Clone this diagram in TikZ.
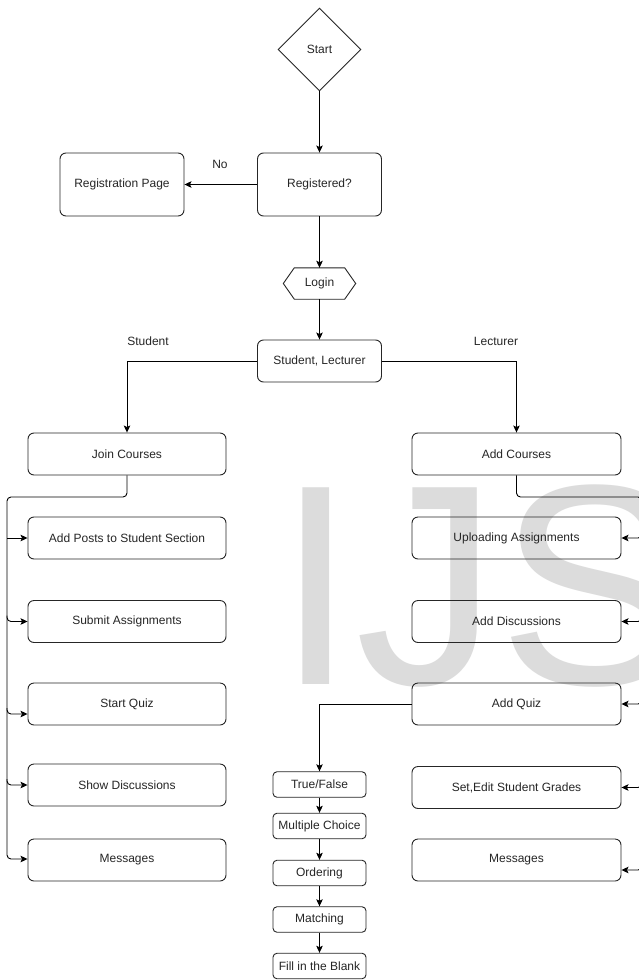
\documentclass[tikz,border=0pt]{standalone}
\usepackage{fontspec}
\setmainfont{Liberation Sans}
\usetikzlibrary{shapes.geometric,arrows.meta,calc}
\definecolor{txt}{HTML}{262626}
\definecolor{wmk}{HTML}{DCDCDC}
\tikzset{
  base/.style={font=\fontsize{12}{14}\selectfont, text=txt, inner sep=0pt},
  bigbox/.style={base, draw=black!85, line width=0.9pt, rounded corners=6pt, minimum height=42pt},
  leftbox/.style={bigbox, minimum width=198pt},
  rightbox/.style={bigbox, minimum width=209pt},
  smallbox/.style={base, draw=black!85, line width=0.9pt, rounded corners=4pt, minimum width=93pt, minimum height=25.5pt},
  lbl/.style={base},
  arr/.style={draw=black, line width=0.9pt, -{Stealth[length=7pt,width=6.5pt,inset=1.5pt]}},
  bus/.style={arr, rounded corners=4pt}
}
\begin{document}
\begin{tikzpicture}[x=1pt,y=-1pt]
\useasboundingbox (0,0) rectangle (639,980);
\fill[white] (0,0) rectangle (639,980);
% watermark
\node[anchor=base west, inner sep=0pt, text=wmk, font=\fontsize{286}{286}\selectfont] (wm) at (276,684) {IJS};

% top column
\node[base, diamond, draw=black!85, line width=0.9pt, minimum width=83pt, minimum height=83pt] (start) at (319.5,49.5) {Start};
\node[bigbox, minimum width=124pt, minimum height=63pt] (reg) at (319.5,184.5) {Registered?};
\node[bigbox, minimum width=124pt, minimum height=63pt] (regp) at (122,184.5) {Registration Page};
\node[lbl] (no) at (220,164) {No};
\node[base, minimum width=72pt, minimum height=31pt] (login) at (319.5,283.5) {Login};
\draw[black!85, line width=0.9pt] (login.west) -- ($(login.north west)+(11,0)$) -- ($(login.north east)+(-11,0)$) -- (login.east) -- ($(login.south east)+(-11,0)$) -- ($(login.south west)+(11,0)$) -- cycle;
\node[bigbox, minimum width=124pt] (sl) at (319.5,361) {Student, Lecturer};
\node[lbl] (stud) at (148,341) {Student};
\node[lbl] (lect) at (496,341) {Lecturer};

% left column
\node[leftbox] (join) at (127,454) {Join Courses};
\node[leftbox] (posts) at (127,538) {Add Posts to Student Section};
\node[leftbox] (submit) at (127,621.5) {Submit Assignments};
\node[leftbox] (squiz) at (127,704) {Start Quiz};
\node[leftbox] (showd) at (127,785) {Show Discussions};
\node[leftbox] (lmsg) at (127,860) {Messages};

% right column
\node[rightbox] (addc) at (516.5,454) {Add Courses};
\node[rightbox] (upl) at (516.5,538) {Uploading Assignments};
\node[rightbox] (adisc) at (516.5,621.5) {Add Discussions};
\node[rightbox] (aquiz) at (516.5,704) {Add Quiz};
\node[rightbox] (grades) at (516.5,787.5) {Set,Edit Student Grades};
\node[rightbox] (rmsg) at (516.5,860) {Messages};

% quiz types
\node[smallbox] (tf) at (319.5,784.5) {True/False};
\node[smallbox] (mc) at (319.5,826) {Multiple Choice};
\node[smallbox] (ord) at (319.5,873) {Ordering};
\node[smallbox] (match) at (319.5,919.5) {Matching};
\node[smallbox] (fill) at (319.5,966) {Fill in the Blank};

% connectors top
\draw[arr] (start) -- (reg);
\draw[arr] (reg) -- (regp);
\draw[arr] (reg) -- (login);
\draw[arr] (login) -- (sl);
\draw[arr] (sl.west) -| (join.north);
\draw[arr] (sl.east) -| (addc.north);

% left bus
\coordinate (lb) at (7,497);
\draw[bus] (join.south) |- (lb) |- ($(lmsg.west)+(0,-1)$);
\draw[arr] (lb |- posts.west) -- (posts.west);
\draw[bus] ($(lb |- submit.west)+(0,-6)$) |- (submit.west);
\draw[bus] ($(lb |- squiz.west)+(0,4)$) |- ($(squiz.west)+(0,10)$);
\draw[bus] ($(lb |- showd.west)+(0,-6)$) |- (showd.west);

% right bus
\coordinate (rb) at (642,497);
\draw[bus] (addc.south) |- (rb) |- ($(rmsg.east)+(0,10)$);
\draw[bus] ($(rb |- upl.east)+(0,-6)$) |- (upl.east);
\draw[bus] ($(rb |- adisc.east)+(0,-6)$) |- (adisc.east);
\draw[bus] ($(rb |- aquiz.east)+(0,-6)$) |- (aquiz.east);
\draw[bus] ($(rb |- grades.east)+(0,-6)$) |- (grades.east);

% quiz chain
\draw[arr] (aquiz.west) -| (tf.north);
\draw[arr] (tf) -- (mc);
\draw[arr] (mc) -- (ord);
\draw[arr] (ord) -- (match);
\draw[arr] (match) -- (fill);
\end{tikzpicture}
\end{document}
